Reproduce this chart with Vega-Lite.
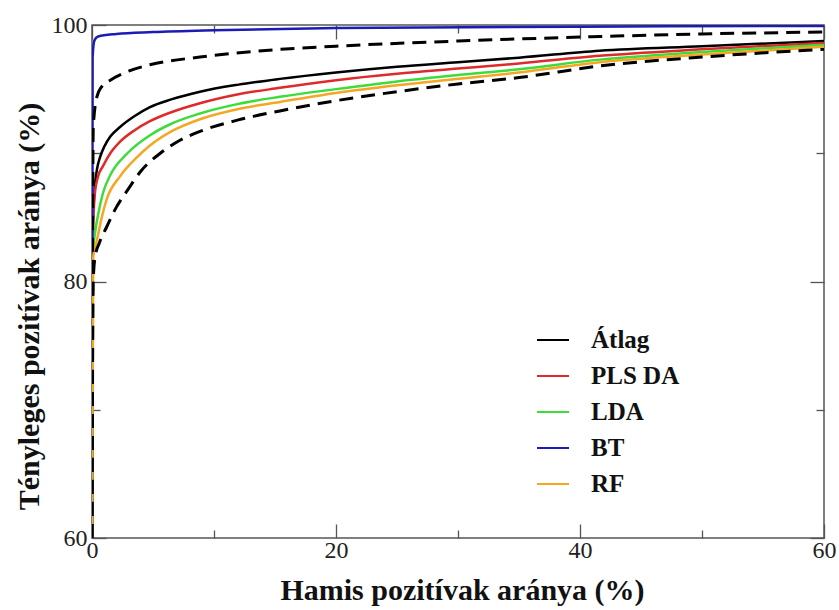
{
  "$schema": "https://vega.github.io/schema/vega-lite/v6.json",
  "width": 732,
  "height": 513,
  "autosize": {"type": "none"},
  "padding": {"left": 92, "top": 25, "right": 15, "bottom": 72},
  "background": "white",
  "config": {
    "view": {"stroke": "#555555", "strokeWidth": 1.5},
    "axis": {
      "grid": false,
      "domain": false,
      "tickColor": "#555555",
      "tickWidth": 1.3,
      "labelFont": "Liberation Serif",
      "labelFontSize": 24,
      "labelColor": "#222222",
      "titleFont": "Liberation Serif",
      "titleFontWeight": "bold",
      "titleFontSize": 30,
      "titleColor": "#111111"
    }
  },
  "datasets": {
    "roc": [
      {"s": "Átlag", "x": 0, "y": 60}, {"s": "Átlag", "x": 0.05, "y": 84}, {"s": "Átlag", "x": 0.2, "y": 87}, {"s": "Átlag", "x": 0.4, "y": 88.7}, {"s": "Átlag", "x": 0.66, "y": 89.7}, {"s": "Átlag", "x": 1, "y": 90.5}, {"s": "Átlag", "x": 1.5, "y": 91.3}, {"s": "Átlag", "x": 2.3, "y": 92.05}, {"s": "Átlag", "x": 3.5, "y": 92.9}, {"s": "Átlag", "x": 4.75, "y": 93.6}, {"s": "Átlag", "x": 6.5, "y": 94.2}, {"s": "Átlag", "x": 8.85, "y": 94.8}, {"s": "Átlag", "x": 12, "y": 95.35}, {"s": "Átlag", "x": 15.4, "y": 95.8}, {"s": "Átlag", "x": 20, "y": 96.3}, {"s": "Átlag", "x": 25, "y": 96.75}, {"s": "Átlag", "x": 30, "y": 97.1}, {"s": "Átlag", "x": 35, "y": 97.45}, {"s": "Átlag", "x": 41.6, "y": 98.0}, {"s": "Átlag", "x": 50, "y": 98.35}, {"s": "Átlag", "x": 60, "y": 98.75},
      {"s": "PLS DA", "x": 0, "y": 60}, {"s": "PLS DA", "x": 0.05, "y": 83}, {"s": "PLS DA", "x": 0.25, "y": 87.0}, {"s": "PLS DA", "x": 0.5, "y": 88.2}, {"s": "PLS DA", "x": 0.9, "y": 89.0}, {"s": "PLS DA", "x": 1.5, "y": 90.0}, {"s": "PLS DA", "x": 2.3, "y": 90.9}, {"s": "PLS DA", "x": 3.5, "y": 91.8}, {"s": "PLS DA", "x": 4.75, "y": 92.5}, {"s": "PLS DA", "x": 6.5, "y": 93.2}, {"s": "PLS DA", "x": 8.85, "y": 93.9}, {"s": "PLS DA", "x": 12, "y": 94.6}, {"s": "PLS DA", "x": 15.4, "y": 95.1}, {"s": "PLS DA", "x": 20, "y": 95.7}, {"s": "PLS DA", "x": 25, "y": 96.2}, {"s": "PLS DA", "x": 30, "y": 96.6}, {"s": "PLS DA", "x": 35, "y": 97.0}, {"s": "PLS DA", "x": 41.6, "y": 97.6}, {"s": "PLS DA", "x": 50, "y": 98.1}, {"s": "PLS DA", "x": 60, "y": 98.6},
      {"s": "LDA", "x": 0, "y": 60}, {"s": "LDA", "x": 0.05, "y": 82}, {"s": "LDA", "x": 0.25, "y": 83.8}, {"s": "LDA", "x": 0.5, "y": 85.2}, {"s": "LDA", "x": 0.9, "y": 86.9}, {"s": "LDA", "x": 1.5, "y": 88.3}, {"s": "LDA", "x": 2.9, "y": 90.0}, {"s": "LDA", "x": 4.75, "y": 91.4}, {"s": "LDA", "x": 6.5, "y": 92.3}, {"s": "LDA", "x": 8.85, "y": 93.1}, {"s": "LDA", "x": 12, "y": 93.85}, {"s": "LDA", "x": 15.4, "y": 94.4}, {"s": "LDA", "x": 20, "y": 95.0}, {"s": "LDA", "x": 25, "y": 95.6}, {"s": "LDA", "x": 30, "y": 96.1}, {"s": "LDA", "x": 35, "y": 96.55}, {"s": "LDA", "x": 41.6, "y": 97.3}, {"s": "LDA", "x": 50, "y": 97.9}, {"s": "LDA", "x": 60, "y": 98.45},
      {"s": "BT", "x": 0, "y": 60}, {"s": "BT", "x": 0.05, "y": 97.5}, {"s": "BT", "x": 0.2, "y": 98.8}, {"s": "BT", "x": 0.5, "y": 99.1}, {"s": "BT", "x": 2, "y": 99.3}, {"s": "BT", "x": 5, "y": 99.45}, {"s": "BT", "x": 10, "y": 99.6}, {"s": "BT", "x": 20, "y": 99.77}, {"s": "BT", "x": 40, "y": 99.87}, {"s": "BT", "x": 60, "y": 99.93},
      {"s": "RF", "x": 0, "y": 60}, {"s": "RF", "x": 0.1, "y": 81.9}, {"s": "RF", "x": 0.4, "y": 83.2}, {"s": "RF", "x": 0.8, "y": 85.0}, {"s": "RF", "x": 1.2, "y": 86.4}, {"s": "RF", "x": 2.3, "y": 88.2}, {"s": "RF", "x": 3.7, "y": 89.7}, {"s": "RF", "x": 4.75, "y": 90.6}, {"s": "RF", "x": 6.5, "y": 91.7}, {"s": "RF", "x": 8.85, "y": 92.65}, {"s": "RF", "x": 12, "y": 93.45}, {"s": "RF", "x": 15.4, "y": 94.0}, {"s": "RF", "x": 20, "y": 94.7}, {"s": "RF", "x": 25, "y": 95.3}, {"s": "RF", "x": 30, "y": 95.8}, {"s": "RF", "x": 35, "y": 96.3}, {"s": "RF", "x": 41.6, "y": 97.1}, {"s": "RF", "x": 50, "y": 97.7}, {"s": "RF", "x": 60, "y": 98.3},
      {"s": "lower", "x": 0, "y": 60}, {"s": "lower", "x": 0.1, "y": 80}, {"s": "lower", "x": 0.25, "y": 81.9}, {"s": "lower", "x": 0.6, "y": 83}, {"s": "lower", "x": 1.2, "y": 84.25}, {"s": "lower", "x": 2.0, "y": 85.8}, {"s": "lower", "x": 2.9, "y": 87.1}, {"s": "lower", "x": 4, "y": 88.6}, {"s": "lower", "x": 5.6, "y": 90.0}, {"s": "lower", "x": 7, "y": 90.9}, {"s": "lower", "x": 8.85, "y": 91.7}, {"s": "lower", "x": 12, "y": 92.6}, {"s": "lower", "x": 15.4, "y": 93.3}, {"s": "lower", "x": 20, "y": 94.1}, {"s": "lower", "x": 25, "y": 94.8}, {"s": "lower", "x": 30, "y": 95.4}, {"s": "lower", "x": 35, "y": 95.9}, {"s": "lower", "x": 41.6, "y": 96.8}, {"s": "lower", "x": 50, "y": 97.5}, {"s": "lower", "x": 60, "y": 98.1},
      {"s": "upper", "x": 0, "y": 60}, {"s": "upper", "x": 0.1, "y": 92}, {"s": "upper", "x": 0.4, "y": 94.4}, {"s": "upper", "x": 0.8, "y": 95.2}, {"s": "upper", "x": 1.5, "y": 95.7}, {"s": "upper", "x": 3, "y": 96.4}, {"s": "upper", "x": 4.75, "y": 96.9}, {"s": "upper", "x": 8.85, "y": 97.5}, {"s": "upper", "x": 15.4, "y": 98.1}, {"s": "upper", "x": 20, "y": 98.35}, {"s": "upper", "x": 30, "y": 98.75}, {"s": "upper", "x": 41.6, "y": 99.1}, {"s": "upper", "x": 50, "y": 99.3}, {"s": "upper", "x": 60, "y": 99.45}
    ]
  },
  "data": {"name": "roc"},
  "resolve": {"axis": {"x": "independent", "y": "independent"}},
  "layer": [
    {
      "transform": [{"filter": "datum.s !== 'lower' && datum.s !== 'upper'"}],
      "mark": {"type": "line", "strokeWidth": 2.5, "clip": true, "interpolate": "monotone"},
      "encoding": {
        "x": {"field": "x", "type": "quantitative", "scale": {"domain": [0, 60], "nice": false, "zero": false},
          "axis": {"orient": "bottom", "values": [0, 20, 40, 60], "tickSize": -14, "labelPadding": 14, "title": "Hamis pozitívak aránya (%)", "titleX": 370, "titleY": 52, "titleBaseline": "middle", "labelFlush": false}},
        "y": {"field": "y", "type": "quantitative", "scale": {"domain": [60, 100], "nice": false, "zero": false},
          "axis": {"orient": "left", "values": [60, 80, 100], "tickSize": -14, "labelPadding": 19, "title": "Tényleges pozitívak aránya (%)", "titleX": -63, "titleY": 281, "titleBaseline": "middle", "titleAngle": -90, "titleAlign": "center"}},
        "color": {"field": "s", "type": "nominal",
          "scale": {"domain": ["Átlag", "PLS DA", "LDA", "BT", "RF"], "range": ["#000000", "#e02a2a", "#3cdc3c", "#1c1cb4", "#f5a623"]},
          "legend": {"title": null, "orient": "none", "legendX": 444, "legendY": 298, "symbolType": "stroke", "symbolSize": 1024, "symbolStrokeWidth": 2, "labelFont": "Liberation Serif", "labelFontWeight": "bold", "labelFontSize": 25, "labelColor": "#111111", "labelOffset": 21, "rowPadding": 6, "padding": 0}}
      }
    },
    {
      "transform": [{"filter": "datum.s === 'lower' || datum.s === 'upper'"}],
      "mark": {"type": "line", "strokeWidth": 3, "strokeDash": [14, 8], "color": "#000000", "clip": true, "interpolate": "monotone"},
      "encoding": {
        "detail": {"field": "s", "type": "nominal"},
        "x": {"field": "x", "type": "quantitative", "axis": {"orient": "bottom", "values": [10, 30, 50], "tickSize": -8, "labels": false, "title": null}},
        "y": {"field": "y", "type": "quantitative", "axis": {"orient": "left", "values": [70, 90], "tickSize": -8, "labels": false, "title": null}}
      }
    },
    {
      "transform": [{"filter": "datum.s === 'BT'"}],
      "mark": {"type": "line", "opacity": 0, "clip": true},
      "encoding": {
        "x": {"field": "x", "type": "quantitative", "axis": {"orient": "top", "values": [0, 20, 40, 60], "tickSize": -14, "labels": false, "title": null}},
        "y": {"field": "y", "type": "quantitative", "axis": {"orient": "right", "values": [60, 80, 100], "tickSize": -14, "labels": false, "title": null}}
      }
    },
    {
      "transform": [{"filter": "datum.s === 'BT'"}],
      "mark": {"type": "line", "opacity": 0, "clip": true},
      "encoding": {
        "x": {"field": "x", "type": "quantitative", "axis": {"orient": "top", "values": [10, 30, 50], "tickSize": -8, "labels": false, "title": null}},
        "y": {"field": "y", "type": "quantitative", "axis": {"orient": "right", "values": [70, 90], "tickSize": -8, "labels": false, "title": null}}
      }
    }
  ]
}
